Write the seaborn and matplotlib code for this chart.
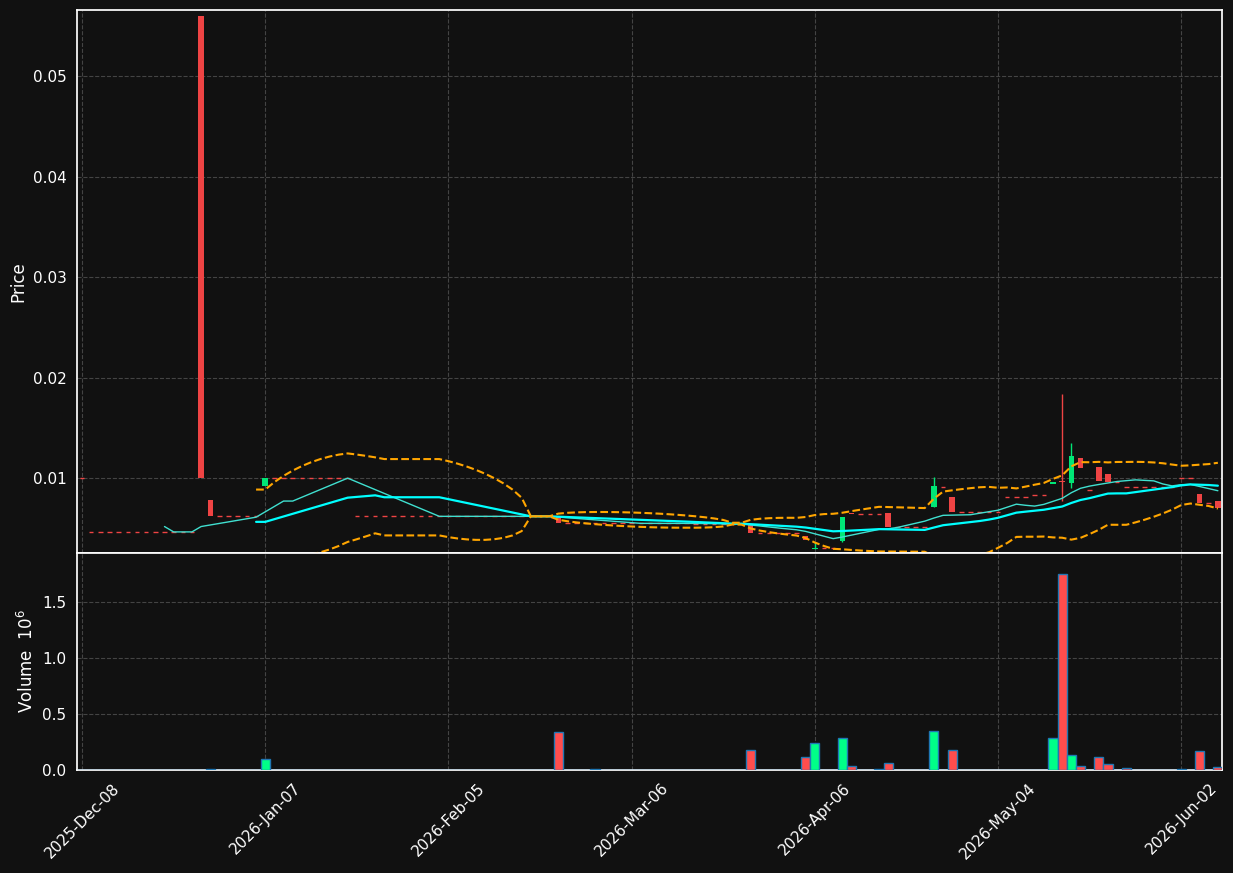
import numpy as np
import pandas as pd
import matplotlib
matplotlib.use('Agg')
import matplotlib.pyplot as plt
import seaborn as sns

# trading days that carry a price change; all other days repeat the last close
event_idx = [0, 1, 2, 13, 14, 20, 30, 52, 56, 67, 73, 79, 80, 83, 84, 87, 88, 93, 94, 95,
             101, 104, 106, 107, 108, 109, 110, 111, 112, 114, 120, 122, 123, 124]
event_open = [0.0100, 0.00465, 0.00465, 0.0560, 0.0078, 0.0092, 0.0062, 0.0061, 0.0055, 0.0054,
              0.0054, 0.0042, 0.0029, 0.0037, 0.0065, 0.0064, 0.0065, 0.0071, 0.0091, 0.0081,
              0.0081, 0.0083, 0.0094, 0.0097, 0.0095, 0.0120, 0.0088, 0.0111, 0.0104, 0.0091,
              0.0100, 0.0084, 0.0075, 0.0077]
event_high = [0.0100, 0.00465, 0.00465, 0.0560, 0.0078, 0.0100, 0.0062, 0.0061, 0.0055, 0.0054,
              0.0054, 0.0042, 0.0036, 0.0061, 0.0065, 0.0064, 0.0065, 0.0101, 0.0091, 0.0081,
              0.0081, 0.0083, 0.0096, 0.0184, 0.0135, 0.0120, 0.0088, 0.0111, 0.0104, 0.0091,
              0.0100, 0.0084, 0.0075, 0.0077]
event_low = [0.0100, 0.00465, 0.00465, 0.0100, 0.0062, 0.0092, 0.0062, 0.0055, 0.0055, 0.0054,
             0.0045, 0.0038, 0.0029, 0.0036, 0.0064, 0.0064, 0.0051, 0.0071, 0.0091, 0.0066,
             0.0081, 0.0083, 0.0094, 0.0077, 0.0090, 0.0110, 0.0088, 0.0097, 0.0096, 0.0091,
             0.0100, 0.0075, 0.0075, 0.0070]
event_close = [0.0100, 0.00465, 0.00465, 0.0100, 0.0062, 0.0100, 0.0062, 0.0055, 0.0055, 0.0054,
               0.0045, 0.0038, 0.0030, 0.0061, 0.0064, 0.0064, 0.0051, 0.0092, 0.0091, 0.0066,
               0.0081, 0.0083, 0.0096, 0.0096, 0.0122, 0.0110, 0.0088, 0.0097, 0.0096, 0.0091,
               0.0100, 0.0075, 0.0075, 0.0070]
event_volume = [0.0, 0.0, 0.004, 0.0, 0.005, 0.10, 0.0, 0.34, 0.005, 0.004,
                0.18, 0.12, 0.24, 0.29, 0.04, 0.01, 0.06, 0.35, 0.0, 0.18,
                0.0, 0.0, 0.29, 1.75, 0.13, 0.04, 0.003, 0.12, 0.05, 0.015,
                0.005, 0.17, 0.0, 0.03]

n_days = 125
holidays = ['2025-12-25', '2026-01-01', '2026-01-19', '2026-02-16', '2026-04-03', '2026-05-25']

RED = '#ef4444'
GREEN = '#00e676'
VRED = '#ff4d4d'
VGREEN = '#00ff88'
BG = '#111111'


def build_frame():
    bday = pd.offsets.CustomBusinessDay(holidays=holidays)
    dates = pd.date_range('2025-12-08', periods=n_days, freq=bday)
    o = np.full(n_days, np.nan)
    h, l, c, v = o.copy(), o.copy(), o.copy(), np.zeros(n_days)
    for k, i in enumerate(event_idx):
        o[i], h[i], l[i], c[i], v[i] = (event_open[k], event_high[k], event_low[k],
                                        event_close[k], event_volume[k])
    df = pd.DataFrame({'date': dates, 'open': o, 'high': h, 'low': l, 'close': c, 'volume': v})
    df['close'] = df['close'].ffill()
    for col in ['open', 'high', 'low']:
        df[col] = df[col].fillna(df['close'])
    df['x'] = np.arange(n_days)
    df['ma10'] = df['close'].rolling(10).mean()
    df['ma20'] = df['close'].rolling(20).mean()
    sd = df['close'].rolling(20).std(ddof=0)
    df['upper'] = df['ma20'] + 2 * sd
    df['lower'] = df['ma20'] - 2 * sd
    return df


df = build_frame()

sns.set_theme(style='dark', rc={
    'axes.facecolor': BG, 'figure.facecolor': BG, 'axes.edgecolor': 'white',
    'text.color': 'white', 'axes.labelcolor': 'white',
    'xtick.color': 'white', 'ytick.color': 'white',
    'grid.color': '#444444', 'grid.linestyle': '--', 'grid.linewidth': 0.8,
})
plt.rcParams['font.family'] = ['DejaVu Sans']

fig = plt.figure(figsize=(12.33, 8.73), dpi=100)
ax = fig.add_axes([77 / 1233, 1 - 553 / 873, 1145 / 1233, 543 / 873])
axv = fig.add_axes([77 / 1233, 1 - 770 / 873, 1145 / 1233, 217 / 873], sharex=ax)

for _, r in df.iterrows():
    up = r['close'] > r['open']
    col = GREEN if up else RED
    if r['high'] > max(r['open'], r['close']) or r['low'] < min(r['open'], r['close']):
        ax.vlines(r['x'], r['low'], r['high'], color=col, lw=1, zorder=3)
    lo, hi = sorted([r['open'], r['close']])
    if hi - lo > 1e-9:
        ax.bar(r['x'], hi - lo, bottom=lo, width=0.6, color=col, linewidth=0, zorder=3)
    else:
        ax.hlines(r['close'], r['x'] - 0.25, r['x'] + 0.25, color=col, lw=1, zorder=3)
    axv.bar(r['x'], r['volume'], width=1.0, color=VGREEN if up else VRED,
            edgecolor='#1f77b4', linewidth=1, zorder=3)

sns.lineplot(data=df, x='x', y='ma10', ax=ax, color='#40e0d0', lw=1, zorder=4)
sns.lineplot(data=df, x='x', y='ma20', ax=ax, color='#00ffff', lw=1.6, zorder=4)
sns.lineplot(data=df, x='x', y='upper', ax=ax, color='#ffa500', lw=1.5, ls='--', zorder=4)
sns.lineplot(data=df, x='x', y='lower', ax=ax, color='#ffa500', lw=1.5, ls='--', zorder=4)

ax.set_xlim(-0.55, 124.45)
ax.set_ylim(0.00255, 0.0566)
ax.set_yticks([0.01, 0.02, 0.03, 0.04, 0.05])
ax.set_ylabel('Price')
ax.set_xlabel('')
ax.grid(True)
ax.tick_params(axis='x', labelbottom=False, length=0)

axv.set_ylim(0, 1.94)
axv.set_yticks([0.0, 0.5, 1.0, 1.5])
axv.set_ylabel('Volume  $10^{6}$')
axv.grid(True)
ticks = list(range(0, n_days, 20))
axv.set_xticks(ticks)
axv.set_xticklabels([df['date'][i].strftime('%Y-%b-%d') for i in ticks], rotation=45, ha='center')
axv.tick_params(axis='both', length=4, color='white', labelsize=11)
ax.tick_params(axis='y', length=4, color='white', labelsize=11)
axv.set_xlabel('')

fig.savefig('out.png', dpi=100, facecolor=BG)
